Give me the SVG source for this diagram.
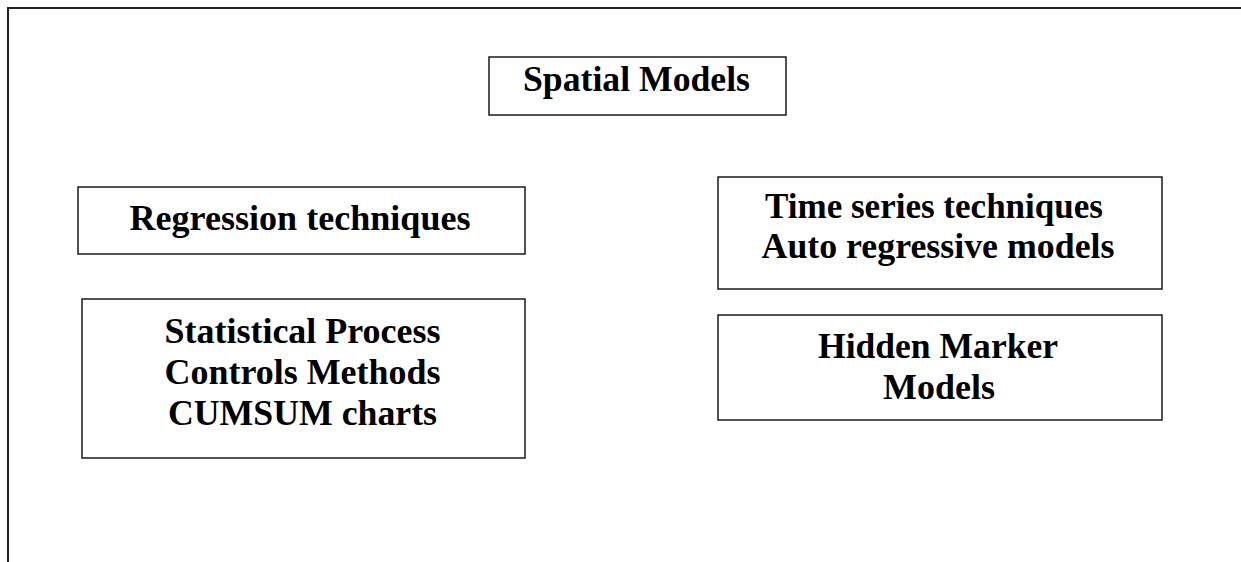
<svg xmlns="http://www.w3.org/2000/svg" width="1241" height="562" viewBox="0 0 1241 562">
<style>
.box{fill:#fff;stroke:#1a1a1a;stroke-width:1.5}
.frame{fill:none;stroke:#222;stroke-width:2}
.t{font-family:"Liberation Serif","Times New Roman",serif;font-weight:bold;font-size:35px;fill:#000;text-anchor:middle}
</style>
<rect width="1241" height="562" fill="#fff"/>
<path class="frame" d="M8,562 V8 H1241"/>
<g id="spatial">
<rect class="box" x="489" y="57" width="297" height="58"/>
<text class="t" x="636.5" y="91" textLength="227" lengthAdjust="spacingAndGlyphs">Spatial Models</text>
</g>
<g id="regression">
<rect class="box" x="78" y="187" width="447" height="67"/>
<text class="t" x="300" y="230" textLength="341" lengthAdjust="spacingAndGlyphs">Regression techniques</text>
</g>
<g id="spc">
<rect class="box" x="82" y="299" width="443" height="159"/>
<text class="t" x="302.5" y="343" textLength="276" lengthAdjust="spacingAndGlyphs">Statistical Process</text>
<text class="t" x="302.5" y="384" textLength="276" lengthAdjust="spacingAndGlyphs">Controls Methods</text>
<text class="t" x="302.5" y="425" textLength="269" lengthAdjust="spacingAndGlyphs">CUMSUM charts</text>
</g>
<g id="timeseries">
<rect class="box" x="718" y="177" width="444" height="112"/>
<text class="t" x="934" y="218" textLength="338" lengthAdjust="spacingAndGlyphs">Time series techniques</text>
<text class="t" x="938" y="258" textLength="353" lengthAdjust="spacingAndGlyphs">Auto regressive models</text>
</g>
<g id="hmm">
<rect class="box" x="718" y="315" width="444" height="105"/>
<text class="t" x="938" y="358" textLength="240" lengthAdjust="spacingAndGlyphs">Hidden Marker</text>
<text class="t" x="939" y="399" textLength="112" lengthAdjust="spacingAndGlyphs">Models</text>
</g>
<g id="connectors"></g>
</svg>
